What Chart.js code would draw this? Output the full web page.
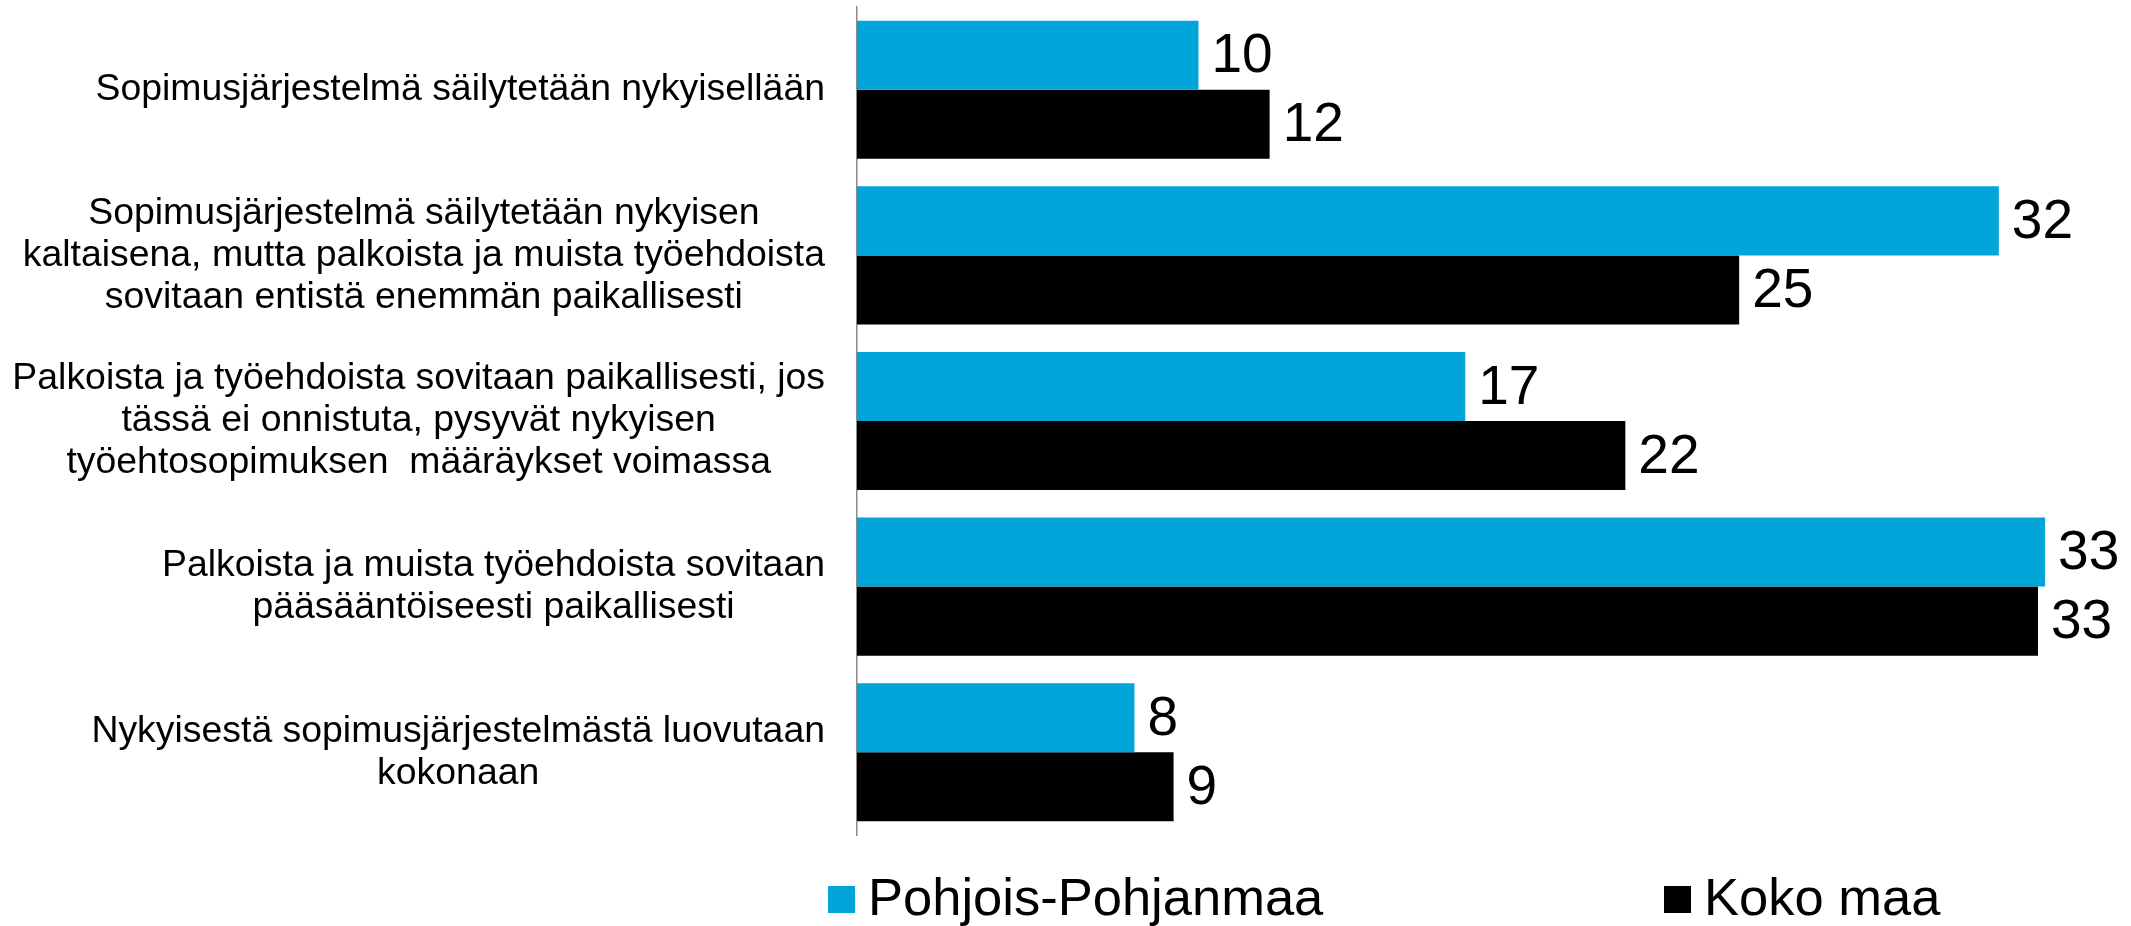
<!DOCTYPE html>
<html lang="fi">
<head>
<meta charset="utf-8">
<title>Sopimusjärjestelmä</title>
<script src="https://cdn.jsdelivr.net/npm/chart.js@4/dist/chart.umd.min.js"></script>
<style>
    html, body { margin: 0; padding: 0; background: #fff; }
    #wrap { width: 2131px; height: 926px; position: relative; }
</style>
</head>
<body>
<div id="wrap"><canvas id="chart"></canvas></div>
<script>
// Categories (each label split into its display lines)
const categories = [
    ['Sopimusjärjestelmä säilytetään nykyisellään'],
    ['Sopimusjärjestelmä säilytetään nykyisen', 'kaltaisena, mutta palkoista ja muista työehdoista', 'sovitaan entistä enemmän paikallisesti'],
    ['Palkoista ja työehdoista sovitaan paikallisesti, jos', 'tässä ei onnistuta, pysyvät nykyisen', 'työehtosopimuksen  määräykset voimassa'],
    ['Palkoista ja muista työehdoista sovitaan', 'pääsääntöiseesti paikallisesti'],
    ['Nykyisestä sopimusjärjestelmästä luovutaan', 'kokonaan']
];

// Series values (%); labels show them rounded
const pohjoisPohjanmaa = [9.6, 32.1, 17.1, 33.4, 7.8];
const kokoMaa = [11.6, 24.8, 21.6, 33.2, 8.9];

const seriesNames = ['Pohjois-Pohjanmaa', 'Koko maa'];
const seriesColors = ['#02A5DA', '#000000'];

const FONT = '"Liberation Sans", Arial, sans-serif';

// Category labels: block right-aligned next to the axis, lines centered inside the block
const categoryLabelPlugin = {
    id: 'categoryLabels',
    afterDraw(chart) {
        const ctx = chart.ctx;
        const yScale = chart.scales.y;
        const right = chart.chartArea.left - 32;
        const lineHeight = 42;
        ctx.save();
        ctx.font = '37.4px ' + FONT;
        ctx.fillStyle = '#000';
        ctx.textAlign = 'center';
        ctx.textBaseline = 'middle';
        categories.forEach((lines, i) => {
            const y = yScale.getPixelForValue(i);
            const maxW = Math.max(...lines.map(l => ctx.measureText(l).width));
            const cx = right - maxW / 2;
            lines.forEach((line, j) => {
                ctx.fillText(line, cx, y + (j - (lines.length - 1) / 2) * lineHeight);
            });
        });
        ctx.restore();
    }
};

// Value labels at the end of each bar
const valueLabelPlugin = {
    id: 'valueLabels',
    afterDatasetsDraw(chart) {
        const ctx = chart.ctx;
        ctx.save();
        ctx.font = '55px ' + FONT;
        ctx.fillStyle = '#000';
        ctx.textAlign = 'left';
        ctx.textBaseline = 'middle';
        chart.data.datasets.forEach((ds, di) => {
            chart.getDatasetMeta(di).data.forEach((bar, i) => {
                ctx.fillText(String(Math.round(ds.data[i])), bar.x + 13, bar.y + 2);
            });
        });
        ctx.restore();
    }
};

// Legend drawn below the plot, items spread like in the original
const legendPlugin = {
    id: 'wideLegend',
    afterDraw(chart) {
        const ctx = chart.ctx;
        const left = chart.chartArea.left;
        const offsets = [-29, 807];
        const box = 27;
        const top = 886;
        ctx.save();
        ctx.font = '52.5px ' + FONT;
        ctx.textAlign = 'left';
        ctx.textBaseline = 'alphabetic';
        chart.data.datasets.forEach((ds, di) => {
            const x = left + offsets[di];
            ctx.fillStyle = ds.backgroundColor;
            ctx.fillRect(x, top, box, box);
            ctx.fillStyle = '#000';
            ctx.fillText(ds.label, x + box + 13, 915);
        });
        ctx.restore();
    }
};

const chart = new Chart(document.getElementById('chart'), {
    type: 'bar',
    data: {
        labels: categories,
        datasets: [
            { label: seriesNames[0], data: pohjoisPohjanmaa, backgroundColor: seriesColors[0] },
            { label: seriesNames[1], data: kokoMaa, backgroundColor: seriesColors[1] }
        ]
    },
    options: {
        indexAxis: 'y',
        responsive: true,
        maintainAspectRatio: false,
        animation: false,
        categoryPercentage: 0.834,
        barPercentage: 1,
        layout: { padding: { top: 7, right: 29, bottom: 91, left: 0 } },
        plugins: {
            legend: { display: false },
            tooltip: { enabled: false }
        },
        scales: {
            x: {
                min: 0,
                max: 35,
                display: false
            },
            y: {
                grid: { display: false },
                ticks: { display: false },
                border: { display: true, color: '#8a8a8a', width: 1.5 },
                afterFit(scale) {
                    scale.width = 857;
                }
            }
        }
    },
    plugins: [categoryLabelPlugin, valueLabelPlugin, legendPlugin]
});
</script>
</body>
</html>
